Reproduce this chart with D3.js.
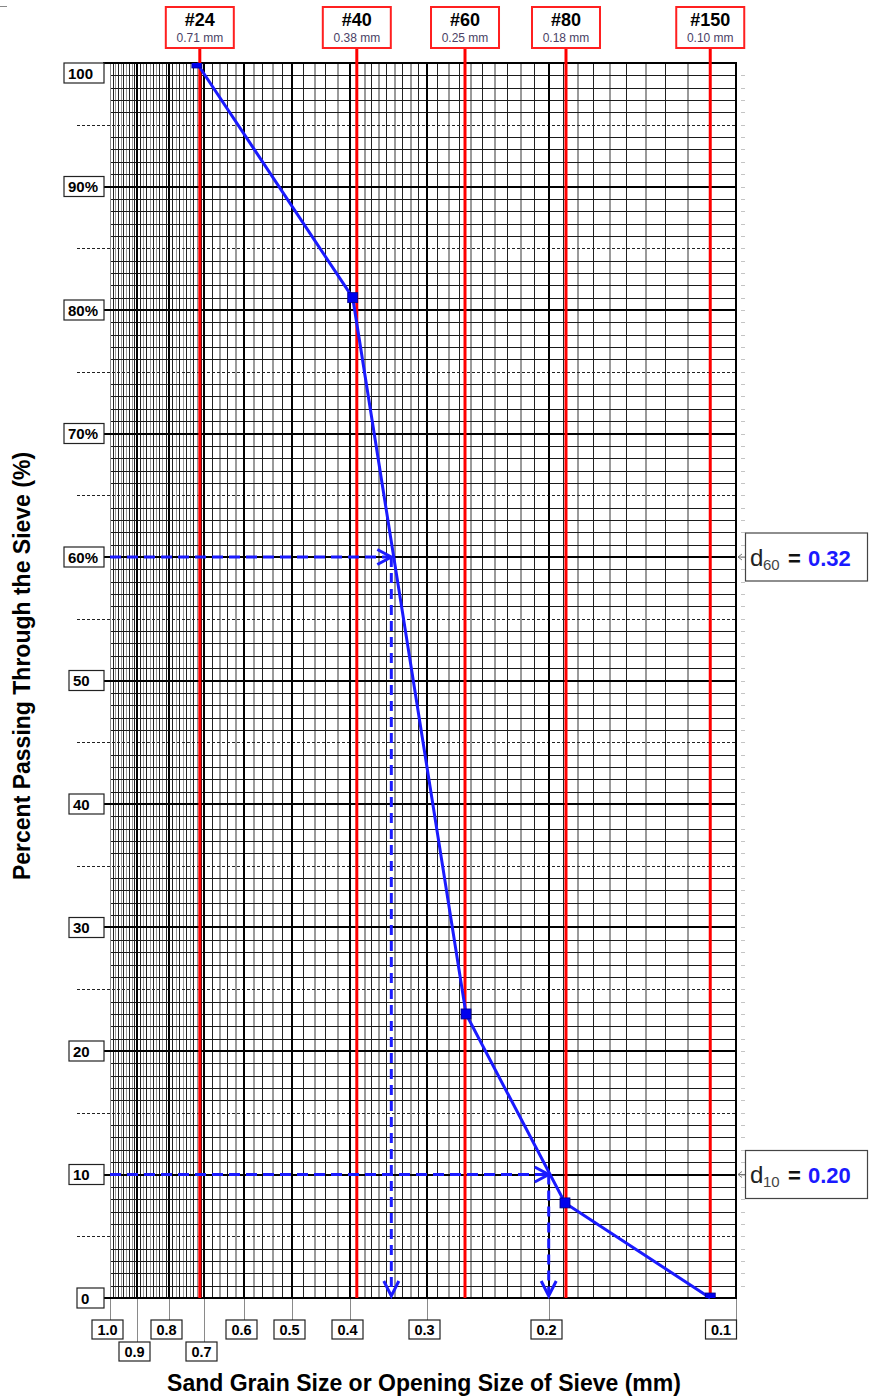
<!DOCTYPE html>
<html><head><meta charset="utf-8">
<script src="https://cdn.jsdelivr.net/npm/d3@7"></script>
<style>body{margin:0;background:#fff}svg{display:block}</style>
</head><body><svg id="c" width="870" height="1397"></svg>
<script>
// ---------- data ----------
const xTickValues = [1.0, 0.9, 0.8, 0.7, 0.6, 0.5, 0.4, 0.3, 0.2, 0.1];
const xTickLabels = ["1.0", "0.9", "0.8", "0.7", "0.6", "0.5", "0.4", "0.3", "0.2", "0.1"];
const xTickLowRow = [false, true, false, true, false, false, false, false, false, false];
const yTickValues = [0, 10, 20, 30, 40, 50, 60, 70, 80, 90, 100];
const yTickLabels = ["0", "10", "20", "30", "40", "50", "60%", "70%", "80%", "90%", "100"];
const sieveNames = ["#24", "#40", "#60", "#80", "#150"];
const sieveOpenings = ["0.71 mm", "0.38 mm", "0.25 mm", "0.18 mm", "0.10 mm"];
const sievePlotSize = [0.712, 0.390, 0.2645, 0.1876, 0.110];
const sampleSize = [0.72, 0.396, 0.2636, 0.1883, 0.110];
const samplePassing = [100, 81, 23, 7.7, 0];
const dSubscripts = ["60", "10"];
const dPercent = [60, 10];
const dPlotSize = [0.343, 0.200];
const dValueText = ["0.32", "0.20"];
const minorSteps = [[1.0, 0.7, 0.01], [0.7, 0.4, 0.02], [0.4, 0.1, 0.01]];

// ---------- scales ----------
const FONT = "'Liberation Sans', Arial, sans-serif";
const x = d3.scaleLog().domain(xTickValues)
  .range([110, 137.3, 169, 204.3, 243.7, 292.3, 350, 427.3, 548.7, 736]);
const y = d3.scaleLinear().domain([0, 100]).range([1298, 63]);
const X0 = x(1.0), X1 = x(0.1), Y0 = y(0), Y1 = y(100);
const snap = v => Math.round(v) + 0.5;

const svg = d3.select("#c");
svg.append("line").attr("x1", 0).attr("x2", 7).attr("y1", 6.5).attr("y2", 6.5).attr("stroke", "#888");

svg.append("defs").append("clipPath").attr("id", "plotclip")
  .append("rect").attr("x", X0).attr("y", Y1).attr("width", X1 - X0).attr("height", Y0 - Y1);

// minor vertical values
const minors = [];
minorSteps.forEach(([a, b, s]) => {
  const n = Math.round((a - b) / s);
  for (let i = 1; i < n; i++) {
    const v = +(a - i * s).toFixed(3);
    if (!xTickValues.some(t => Math.abs(t - v) < 1e-6)) minors.push({v, k: i});
  }
});

const grid = svg.append("g").attr("shape-rendering", "crispEdges");
const pct = d3.range(1, 100);
// vertical minors
grid.selectAll(".vm").data(minors).join("line")
  .attr("x1", d => snap(x(d.v))).attr("x2", d => snap(x(d.v))).attr("y1", Y1).attr("y2", Y0)
  .attr("stroke", d => d.k % 2 ? "#222" : "#9a9a9a")
  .attr("stroke-width", d => (d.k % 2 || d.v > 0.7) ? 1 : 2);
// horizontal 1% lines
grid.selectAll(".h1").data(pct.filter(p => p % 5 !== 0)).join("line")
  .attr("x1", X0).attr("x2", X1).attr("y1", d => snap(y(d))).attr("y2", d => snap(y(d)))
  .attr("stroke", "#1a1a1a").attr("stroke-width", 1);
grid.selectAll(".h5").data(pct.filter(p => p % 5 === 0 && p % 10 !== 0)).join("line")
  .attr("x1", 77).attr("x2", X1).attr("y1", d => snap(y(d))).attr("y2", d => snap(y(d)))
  .attr("stroke", "#222").attr("stroke-width", 1).attr("stroke-dasharray", "3,2");
// right gray ticks
grid.selectAll(".rt").data(pct).join("line")
  .attr("x1", X1 + 5).attr("x2", X1 + 9).attr("y1", d => snap(y(d))).attr("y2", d => snap(y(d)))
  .attr("stroke", "#c4c4c4").attr("stroke-width", 1);
// vertical majors
grid.selectAll(".vM").data(xTickValues).join("line")
  .attr("x1", d => Math.round(x(d))).attr("x2", d => Math.round(x(d))).attr("y1", Y1).attr("y2", Y0)
  .attr("stroke", (d, i) => i === 0 ? "#8a8a8a" : "#000")
  .attr("stroke-width", (d, i) => i === 0 ? 1 : 2);
// horizontal majors
grid.selectAll(".hM").data(yTickValues).join("line")
  .attr("x1", 103).attr("x2", X1 + 1).attr("y1", d => Math.round(y(d))).attr("y2", d => Math.round(y(d)))
  .attr("stroke", "#000").attr("stroke-width", 2);

// x ticks under axis
const xt = svg.append("g");
xTickValues.forEach((v, i) => {
  const px = snap(x(v));
  const low = xTickLowRow[i];
  const top = low ? 1342 : 1320;
  xt.append("line").attr("x1", px).attr("x2", px).attr("y1", Y0 + 1).attr("y2", top)
    .attr("stroke", "#8a8a8a").attr("stroke-width", 1);
  const w = 31, h = 19;
  const bx = i === xTickValues.length - 1 ? px - w : px - w / 2 - 3;
  xt.append("rect").attr("x", bx).attr("y", top).attr("width", w).attr("height", h)
    .attr("fill", "#fff").attr("stroke", "#222").attr("stroke-width", 1.2);
  xt.append("text").attr("x", bx + w / 2).attr("y", top + 15).attr("text-anchor", "middle")
    .attr("font-family", FONT).attr("font-weight", "bold").attr("font-size", 14.5)
    .text(xTickLabels[i]);
});

// y labels
const yl = svg.append("g");
yTickValues.forEach((v, i) => {
  const lab = yTickLabels[i];
  const w = {1: 27, 2: 35, 3: 40}[lab.length];
  const h = 20;
  const by = Math.max(Y1, y(v) - h / 2);
  const bx = 104 - w;
  yl.append("rect").attr("x", bx).attr("y", by).attr("width", w).attr("height", h)
    .attr("fill", "#fff").attr("stroke", "#222").attr("stroke-width", 1.2);
  yl.append("text").attr("x", bx + 4).attr("y", by + 15.5)
    .attr("font-family", FONT).attr("font-weight", "bold").attr("font-size", 15).text(lab);
});

// red sieve lines
const sv = svg.append("g");
sievePlotSize.forEach((v, i) => {
  const px = x(v);
  sv.append("line").attr("x1", px).attr("x2", px).attr("y1", 48).attr("y2", Y0)
    .attr("stroke", "#ff0000").attr("stroke-width", 3);
  const w = 68, h = 41;
  sv.append("rect").attr("x", px - w / 2).attr("y", 7).attr("width", w).attr("height", h)
    .attr("fill", "#fff").attr("stroke", "#ff2020").attr("stroke-width", 2);
  sv.append("text").attr("x", px).attr("y", 26).attr("text-anchor", "middle")
    .attr("font-family", FONT).attr("font-weight", "bold").attr("font-size", 18).text(sieveNames[i]);
  sv.append("text").attr("x", px).attr("y", 42).attr("text-anchor", "middle")
    .attr("font-family", FONT).attr("font-size", 12).attr("fill", "#4a3f66").text(sieveOpenings[i]);
});

// d60 / d10 dashed guides
const BLUE = "#1a1aff";
const dg = svg.append("g");
dPlotSize.forEach((v, i) => {
  const px = x(v), py = y(dPercent[i]);
  const tip = Y0 - 2;
  dg.append("line").attr("x1", X0).attr("x2", px - 2).attr("y1", py).attr("y2", py)
    .attr("stroke", BLUE).attr("stroke-width", 3).attr("stroke-dasharray", "11,6");
  dg.append("polyline").attr("points", `${px - 14},${py - 7.5} ${px},${py} ${px - 14},${py + 7.5}`)
    .attr("fill", "none").attr("stroke", BLUE).attr("stroke-width", 3);
  dg.append("line").attr("x1", px).attr("x2", px).attr("y1", py).attr("y2", tip - 2)
    .attr("stroke", BLUE).attr("stroke-width", 3).attr("stroke-dasharray", "10,6");
  dg.append("polyline").attr("points", `${px - 7.5},${tip - 15} ${px},${tip} ${px + 7.5},${tip - 15}`)
    .attr("fill", "none").attr("stroke", BLUE).attr("stroke-width", 3);

  // annotation box
  const bx = 745.5, bw = 122, bh = 48;
  const by = py - bh / 2;
  dg.append("line").attr("x1", bx).attr("x2", X1 + 2).attr("y1", py).attr("y2", py)
    .attr("stroke", "#777").attr("stroke-width", 1);
  dg.append("polyline").attr("points", `${X1 + 6},${py - 3} ${X1 + 2},${py} ${X1 + 6},${py + 3}`)
    .attr("fill", "none").attr("stroke", "#777").attr("stroke-width", 1);
  dg.append("rect").attr("x", bx).attr("y", by).attr("width", bw).attr("height", bh)
    .attr("fill", "#fff").attr("stroke", "#444").attr("stroke-width", 1.2);
  const base = py + 8.5;
  dg.append("text").attr("x", 750).attr("y", base).attr("font-family", FONT)
    .attr("font-size", 24).attr("fill", "#222").text("d");
  dg.append("text").attr("x", 763).attr("y", base + 4).attr("font-family", FONT)
    .attr("font-size", 15).attr("fill", "#444").text(dSubscripts[i]);
  dg.append("text").attr("x", 788).attr("y", base).attr("font-family", FONT)
    .attr("font-size", 22).attr("font-weight", "bold").attr("fill", "#111").text("=");
  dg.append("text").attr("x", 808).attr("y", base).attr("font-family", FONT)
    .attr("font-size", 22).attr("font-weight", "bold").attr("fill", BLUE).text(dValueText[i]);
});

// sample curve
const pts = sampleSize.map((s, i) => [x(s), y(samplePassing[i])]);
svg.append("path").attr("d", d3.line()(pts)).attr("fill", "none")
  .attr("stroke", BLUE).attr("stroke-width", 3);
svg.append("g").attr("clip-path", "url(#plotclip)").selectAll("rect").data(pts).join("rect")
  .attr("x", d => d[0] - 5).attr("y", d => d[1] - 5).attr("width", 10).attr("height", 10)
  .attr("fill", "#0000ee").attr("stroke", "#000088").attr("stroke-width", 0.8);

// axis titles
svg.append("text").attr("transform", "translate(30,666) rotate(-90)").attr("text-anchor", "middle")
  .attr("font-family", FONT).attr("font-weight", "bold").attr("font-size", 23)
  .text("Percent Passing Through the Sieve (%)");
svg.append("text").attr("x", 424).attr("y", 1391).attr("text-anchor", "middle")
  .attr("font-family", FONT).attr("font-weight", "bold").attr("font-size", 23)
  .text("Sand Grain Size or Opening Size of Sieve (mm)");
</script></body></html>
